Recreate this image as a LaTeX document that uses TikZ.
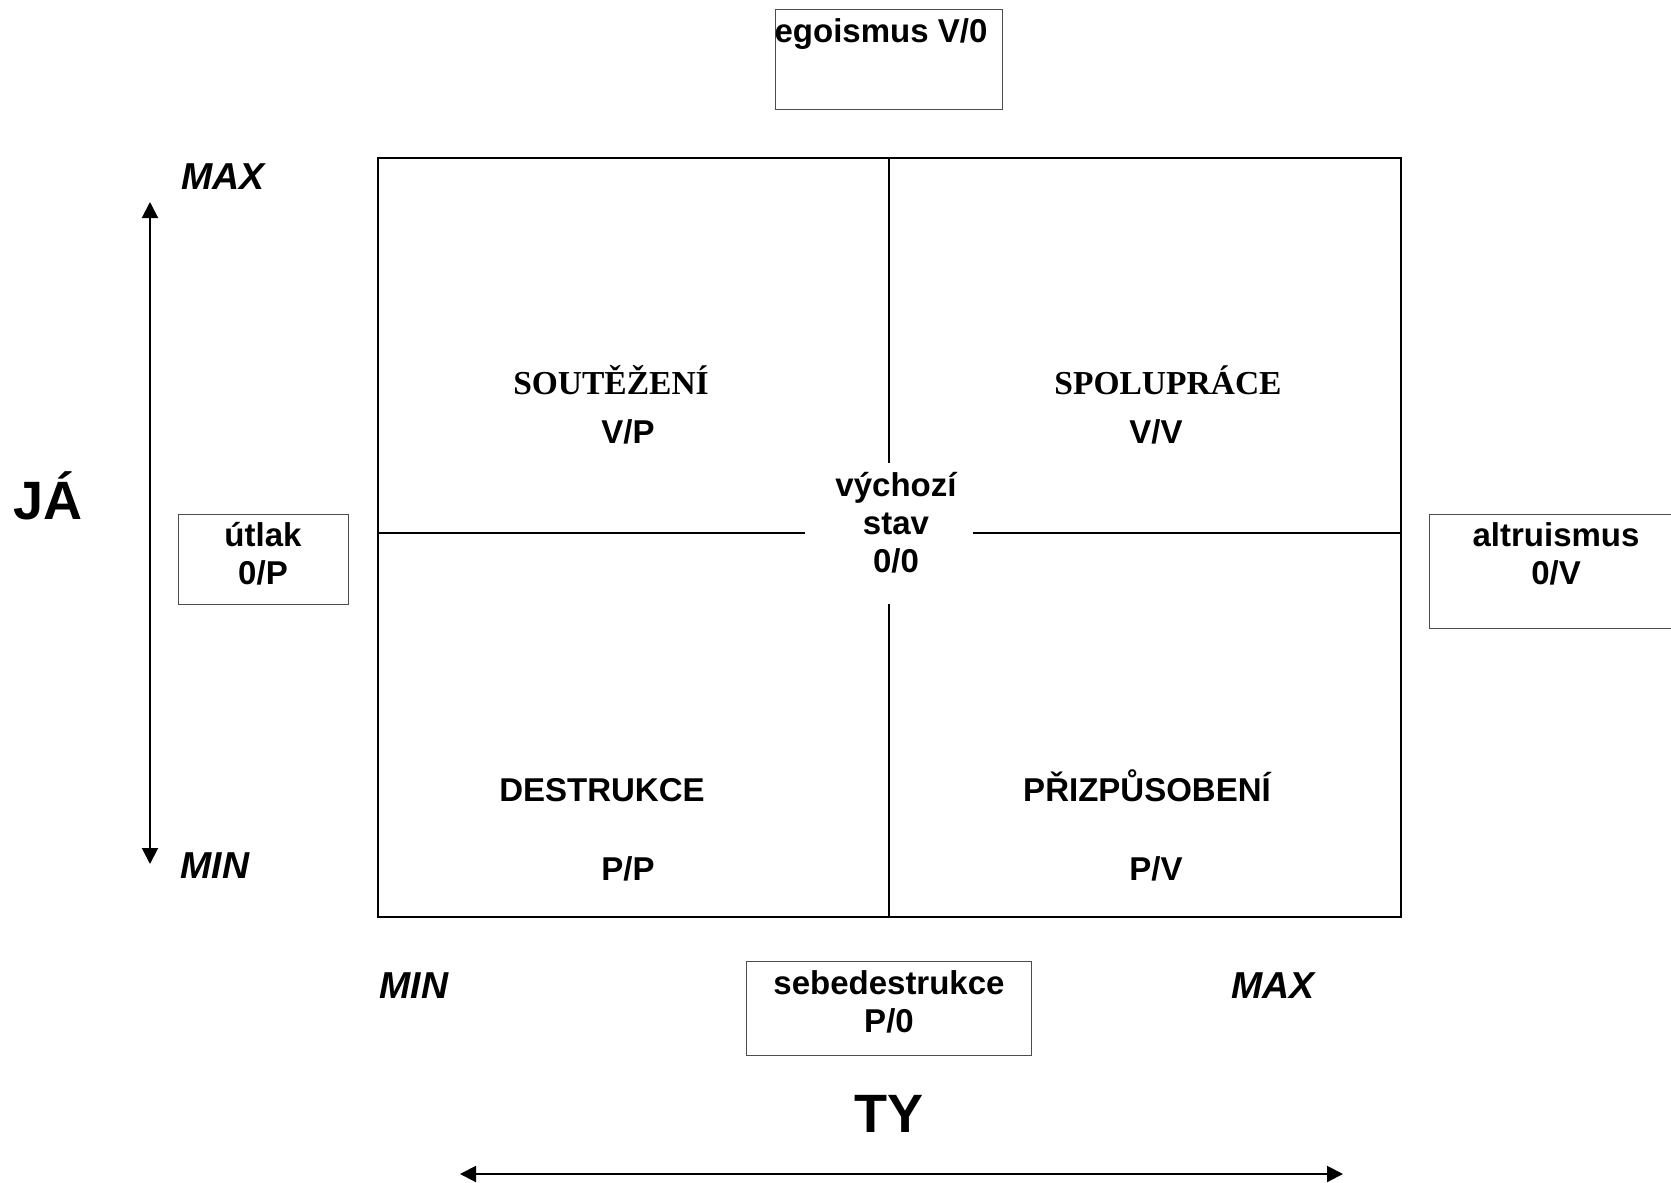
\documentclass[tikz,border=0pt]{standalone}
\usepackage{fontspec}
\setmainfont{Liberation Sans}
\newfontfamily\serifbf{Liberation Serif}
\usetikzlibrary{arrows.meta}
\begin{document}
\begin{tikzpicture}[x=1pt,y=-1pt,
  lbl/.style={font=\bfseries\fontsize{33}{38}\selectfont, align=center, inner sep=0pt},
  big/.style={font=\bfseries\fontsize{54}{60}\selectfont, inner sep=0pt},
  ax/.style={font=\bfseries\itshape\fontsize{37.5}{42}\selectfont, inner sep=0pt},
  ser/.style={font=\serifbf\bfseries\fontsize{33.5}{38}\selectfont, inner sep=0pt},
  tbox/.style={draw=black!70, line width=1pt, inner sep=0pt, rectangle, anchor=north west},
  heavy/.style={line width=2pt},
  dbl/.style={line width=2pt, {Triangle[length=16pt,width=16pt]}-{Triangle[length=16pt,width=16pt]}}]
\useasboundingbox (0,0) rectangle (1671,1183);
\fill[white] (0,0) rectangle (1671,1183);

% main grid
\node[draw, heavy, inner sep=0pt, minimum width=1023pt, minimum height=759pt, anchor=north west] (grid) at (377,157) {};
\coordinate (vt) at (889,463);
\coordinate (vb) at (889,604);
\coordinate (hl) at (805,533);
\coordinate (hr) at (973,533);
\draw[heavy] (grid.north west -| vt) -- (vt);
\draw[heavy] (vb) -- (grid.south west -| vb);
\draw[heavy] (grid.north west |- hl) -- (hl);
\draw[heavy] (hr) -- (grid.north east |- hr);

% small boxes
\node[tbox, minimum width=227pt, minimum height=100pt] (egobox) at (775,9) {};
\node[tbox, minimum width=170pt, minimum height=90pt] (utlakbox) at (178,514) {};
\node[tbox, minimum width=280pt, minimum height=114pt] (altbox) at (1429,514) {};
\node[tbox, minimum width=285pt, minimum height=94pt] (sebebox) at (746,961) {};

\node[lbl] (egot) at (881,34) {egoismus V/0};
\node[lbl] (utlakt) at (263,554) {útlak\\0/P};
\node[lbl] (altt) at (1556,554) {altruismus\\0/V};
\node[lbl] (sebet) at (889,1002) {sebedestrukce\\P/0};
\node[lbl] (vych) at (896,523) {výchozí\\stav\\0/0};

% quadrants
\node[ser] (q1) at (611,380) {SOUTĚŽENÍ};
\node[lbl] (q1v) at (628,432) {V/P};
\node[ser] (q2) at (1168,380) {SPOLUPRÁCE};
\node[lbl] (q2v) at (1156,432) {V/V};
\node[lbl] (q3) at (602,790) {DESTRUKCE};
\node[lbl] (q3v) at (628,869) {P/P};
\node[lbl] (q4) at (1147,786) {PŘIZPŮSOBENÍ};
\node[lbl] (q4v) at (1156,869) {P/V};

% axes
\node[big] (ja) at (48,496) {JÁ};
\node[big] (ty) at (889,1114) {TY};
\node[ax] (ymax) at (223,177) {MAX};
\node[ax] (ymin) at (215,866) {MIN};
\node[ax] (xmin) at (414,986) {MIN};
\node[ax] (xmax) at (1273,986) {MAX};

\coordinate (yt) at (150,202);
\coordinate (yb) at (150,864);
\coordinate (xl) at (460,1174);
\coordinate (xr) at (1343,1174);
\draw[dbl] (yt) -- (yb);
\draw[dbl] (xl) -- (xr);
\end{tikzpicture}
\end{document}
